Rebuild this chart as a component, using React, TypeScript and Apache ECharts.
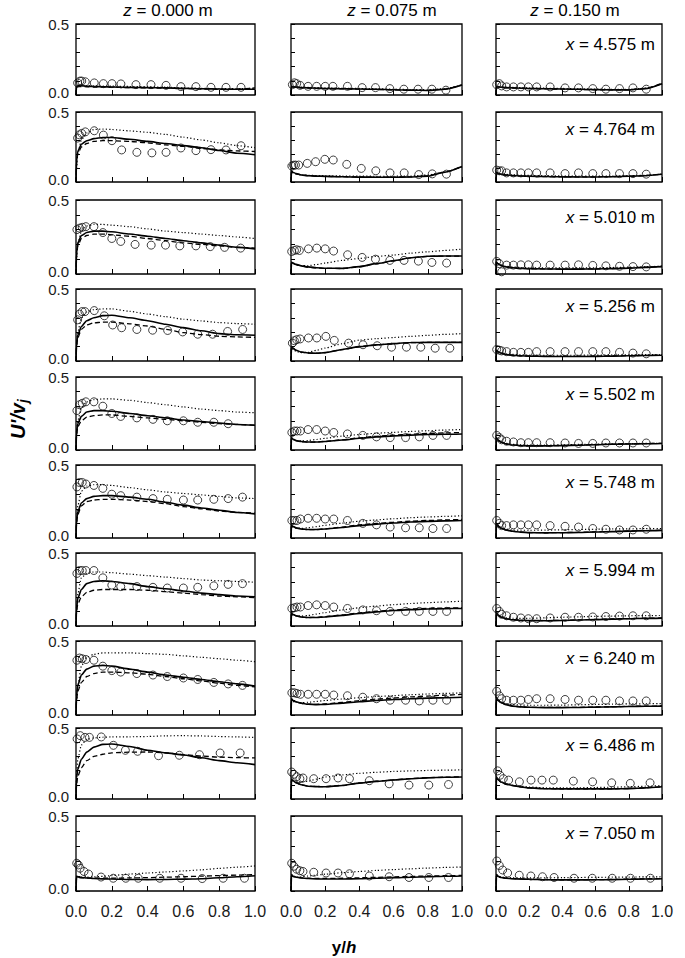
import React, { useEffect, useRef } from "react";
import * as echarts from "echarts";

// y/h sample points of the model curves
const Y_H = [0, 0.003, 0.01, 0.03, 0.06, 0.1, 0.15, 0.2, 0.3, 0.4, 0.5, 0.6, 0.7, 0.8, 0.9, 1.0];
const STATIONS = ["4.575", "4.764", "5.010", "5.256", "5.502", "5.748", "5.994", "6.240", "6.486", "7.050"];
const Z_LABELS = ["0.000", "0.075", "0.150"];

// ---------- z = 0.000 m ----------
const SOLID_Z0 = [
  [0, 0.06, 0.065, 0.065, 0.062, 0.06, 0.058, 0.056, 0.054, 0.052, 0.05, 0.047, 0.044, 0.042, 0.04, 0.04],
  [0, 0.15, 0.22, 0.27, 0.295, 0.31, 0.318, 0.318, 0.305, 0.29, 0.275, 0.26, 0.245, 0.225, 0.205, 0.195],
  [0, 0.14, 0.21, 0.26, 0.28, 0.29, 0.29, 0.285, 0.27, 0.255, 0.24, 0.225, 0.21, 0.195, 0.18, 0.17],
  [0, 0.12, 0.18, 0.24, 0.28, 0.3, 0.315, 0.318, 0.3, 0.28, 0.255, 0.232, 0.21, 0.19, 0.182, 0.179],
  [0, 0.12, 0.18, 0.23, 0.26, 0.27, 0.27, 0.265, 0.25, 0.235, 0.22, 0.205, 0.195, 0.185, 0.175, 0.17],
  [0, 0.12, 0.18, 0.24, 0.27, 0.285, 0.29, 0.29, 0.28, 0.265, 0.245, 0.225, 0.205, 0.19, 0.175, 0.165],
  [0, 0.12, 0.19, 0.25, 0.29, 0.305, 0.31, 0.305, 0.29, 0.27, 0.255, 0.24, 0.225, 0.215, 0.205, 0.2],
  [0, 0.13, 0.2, 0.27, 0.31, 0.33, 0.335, 0.33, 0.31, 0.29, 0.27, 0.255, 0.24, 0.225, 0.21, 0.195],
  [0, 0.15, 0.21, 0.28, 0.33, 0.365, 0.385, 0.387, 0.37, 0.343, 0.325, 0.31, 0.29, 0.27, 0.255, 0.242],
  [0, 0.1, 0.095, 0.09, 0.087, 0.083, 0.081, 0.08, 0.077, 0.076, 0.077, 0.079, 0.082, 0.088, 0.095, 0.102],
];
const DASH_Z0 = [
  [0, 0.055, 0.06, 0.06, 0.058, 0.056, 0.055, 0.054, 0.052, 0.05, 0.048, 0.045, 0.042, 0.04, 0.042, 0.05],
  [0, 0.13, 0.2, 0.25, 0.275, 0.29, 0.295, 0.295, 0.29, 0.28, 0.265, 0.255, 0.24, 0.23, 0.222, 0.218],
  [0, 0.12, 0.19, 0.24, 0.26, 0.27, 0.27, 0.265, 0.255, 0.24, 0.225, 0.21, 0.2, 0.19, 0.18, 0.175],
  [0, 0.1, 0.16, 0.22, 0.25, 0.265, 0.27, 0.27, 0.258, 0.243, 0.22, 0.197, 0.183, 0.172, 0.167, 0.164],
  [0, 0.1, 0.16, 0.2, 0.225, 0.235, 0.24, 0.24, 0.23, 0.22, 0.21, 0.2, 0.19, 0.18, 0.175, 0.17],
  [0, 0.1, 0.16, 0.22, 0.25, 0.26, 0.265, 0.265, 0.26, 0.25, 0.235, 0.215, 0.2, 0.185, 0.175, 0.17],
  [0, 0.1, 0.15, 0.2, 0.23, 0.245, 0.25, 0.25, 0.25, 0.245, 0.235, 0.225, 0.215, 0.205, 0.2, 0.195],
  [0, 0.1, 0.16, 0.22, 0.26, 0.28, 0.29, 0.29, 0.285, 0.275, 0.26, 0.245, 0.23, 0.215, 0.2, 0.19],
  [0, 0.1, 0.16, 0.22, 0.27, 0.3, 0.315, 0.325, 0.33, 0.331, 0.325, 0.312, 0.302, 0.295, 0.291, 0.289],
  [0, 0.09, 0.09, 0.088, 0.087, 0.086, 0.086, 0.086, 0.087, 0.089, 0.092, 0.095, 0.099, 0.103, 0.106, 0.109],
];
const DOT_Z0 = [
  [0, 0.05, 0.06, 0.065, 0.065, 0.064, 0.063, 0.062, 0.06, 0.058, 0.055, 0.05, 0.047, 0.045, 0.045, 0.047],
  [0, 0.1, 0.2, 0.3, 0.35, 0.375, 0.378, 0.375, 0.365, 0.355, 0.34, 0.32, 0.3, 0.28, 0.26, 0.245],
  [0, 0.1, 0.2, 0.29, 0.325, 0.335, 0.335, 0.33, 0.32, 0.305, 0.29, 0.28, 0.27, 0.26, 0.25, 0.24],
  [0, 0.1, 0.2, 0.3, 0.34, 0.357, 0.362, 0.362, 0.345, 0.326, 0.308, 0.29, 0.278, 0.267, 0.26, 0.255],
  [0, 0.1, 0.2, 0.29, 0.33, 0.345, 0.35, 0.35, 0.34, 0.325, 0.31, 0.295, 0.28, 0.27, 0.26, 0.255],
  [0, 0.1, 0.22, 0.32, 0.355, 0.365, 0.365, 0.36, 0.345, 0.33, 0.315, 0.305, 0.295, 0.285, 0.275, 0.27],
  [0, 0.1, 0.22, 0.33, 0.36, 0.37, 0.37, 0.365, 0.355, 0.345, 0.335, 0.325, 0.315, 0.31, 0.305, 0.3],
  [0, 0.1, 0.2, 0.33, 0.39, 0.41, 0.42, 0.42, 0.42, 0.415, 0.41, 0.4, 0.39, 0.38, 0.37, 0.36],
  [0, 0.15, 0.28, 0.38, 0.42, 0.43, 0.435, 0.437, 0.438, 0.44, 0.445, 0.446, 0.444, 0.44, 0.437, 0.434],
  [0, 0.08, 0.09, 0.092, 0.093, 0.094, 0.098, 0.103, 0.113, 0.12, 0.127, 0.134, 0.141, 0.151, 0.159, 0.167],
];
const EXPX_Z0 = [
  [0.009, 0.022, 0.032, 0.052, 0.102, 0.153, 0.201, 0.251, 0.335, 0.419, 0.503, 0.586, 0.67, 0.754, 0.838, 0.922],
  [0.009, 0.019, 0.032, 0.052, 0.102, 0.153, 0.201, 0.255, 0.34, 0.424, 0.503, 0.586, 0.67, 0.754, 0.838, 0.922],
  [0.005, 0.02, 0.035, 0.055, 0.1, 0.15, 0.2, 0.25, 0.33, 0.42, 0.5, 0.58, 0.67, 0.75, 0.83, 0.92],
  [0.009, 0.019, 0.034, 0.05, 0.102, 0.158, 0.205, 0.255, 0.34, 0.428, 0.512, 0.596, 0.68, 0.763, 0.847, 0.931],
  [0.005, 0.02, 0.035, 0.055, 0.1, 0.15, 0.2, 0.25, 0.34, 0.43, 0.51, 0.6, 0.68, 0.77, 0.85],
  [0.005, 0.02, 0.035, 0.055, 0.1, 0.15, 0.2, 0.25, 0.34, 0.43, 0.51, 0.6, 0.68, 0.77, 0.85, 0.93],
  [0.005, 0.02, 0.035, 0.055, 0.1, 0.15, 0.2, 0.25, 0.34, 0.43, 0.51, 0.6, 0.68, 0.77, 0.85, 0.93],
  [0.005, 0.02, 0.035, 0.055, 0.1, 0.15, 0.2, 0.25, 0.34, 0.43, 0.51, 0.6, 0.68, 0.77, 0.85, 0.93],
  [0.006, 0.024, 0.05, 0.075, 0.141, 0.209, 0.276, 0.344, 0.461, 0.577, 0.69, 0.805, 0.917],
  [0.004, 0.013, 0.023, 0.045, 0.07, 0.14, 0.208, 0.278, 0.348, 0.468, 0.587, 0.705, 0.822, 0.941],
];
const EXPY_Z0 = [
  [0.085, 0.098, 0.098, 0.093, 0.085, 0.08, 0.08, 0.078, 0.073, 0.073, 0.068, 0.059, 0.059, 0.054, 0.054, 0.054],
  [0.314, 0.337, 0.347, 0.358, 0.366, 0.335, 0.295, 0.229, 0.212, 0.208, 0.212, 0.243, 0.224, 0.231, 0.229, 0.259],
  [0.3, 0.31, 0.315, 0.32, 0.32, 0.28, 0.24, 0.22, 0.2, 0.195, 0.195, 0.19, 0.19, 0.185, 0.18, 0.175],
  [0.286, 0.326, 0.343, 0.343, 0.35, 0.314, 0.25, 0.231, 0.219, 0.214, 0.212, 0.202, 0.186, 0.186, 0.205, 0.219],
  [0.27, 0.31, 0.32, 0.33, 0.33, 0.3, 0.25, 0.23, 0.22, 0.21, 0.2, 0.2, 0.19, 0.19, 0.18],
  [0.35, 0.38, 0.38, 0.37, 0.36, 0.34, 0.3, 0.29, 0.28, 0.27, 0.265, 0.26, 0.26, 0.265, 0.27, 0.28],
  [0.36, 0.38, 0.38, 0.38, 0.38, 0.33, 0.28, 0.27, 0.27, 0.265, 0.26, 0.26, 0.265, 0.275, 0.285, 0.29],
  [0.37, 0.385, 0.38, 0.375, 0.37, 0.33, 0.3, 0.29, 0.28, 0.27, 0.26, 0.25, 0.24, 0.22, 0.21, 0.2],
  [0.423, 0.446, 0.434, 0.434, 0.437, 0.378, 0.343, 0.336, 0.305, 0.308, 0.312, 0.324, 0.324],
  [0.185, 0.174, 0.152, 0.13, 0.113, 0.093, 0.085, 0.085, 0.085, 0.085, 0.085, 0.083, 0.085, 0.085],
];

// ---------- z = 0.075 m ----------
const SOLID_Z1 = [
  [0, 0.06, 0.058, 0.055, 0.052, 0.05, 0.048, 0.046, 0.044, 0.042, 0.04, 0.037, 0.034, 0.032, 0.04, 0.07],
  [0, 0.08, 0.07, 0.06, 0.05, 0.045, 0.042, 0.04, 0.037, 0.035, 0.034, 0.034, 0.036, 0.042, 0.07, 0.11],
  [0, 0.08, 0.075, 0.065, 0.055, 0.048, 0.042, 0.039, 0.038, 0.05, 0.07, 0.09, 0.11, 0.12, 0.122, 0.122],
  [0, 0.1, 0.09, 0.075, 0.062, 0.056, 0.054, 0.058, 0.08, 0.1, 0.112, 0.121, 0.128, 0.129, 0.129, 0.129],
  [0, 0.085, 0.075, 0.065, 0.058, 0.055, 0.055, 0.058, 0.068, 0.08, 0.09, 0.097, 0.102, 0.106, 0.108, 0.11],
  [0, 0.09, 0.08, 0.07, 0.062, 0.058, 0.058, 0.062, 0.072, 0.085, 0.095, 0.103, 0.11, 0.114, 0.117, 0.12],
  [0, 0.09, 0.08, 0.07, 0.062, 0.058, 0.058, 0.062, 0.073, 0.086, 0.097, 0.106, 0.112, 0.116, 0.119, 0.12],
  [0, 0.11, 0.1, 0.09, 0.08, 0.073, 0.07, 0.072, 0.08, 0.09, 0.098, 0.105, 0.11, 0.114, 0.117, 0.12],
  [0, 0.14, 0.13, 0.115, 0.1, 0.09, 0.087, 0.086, 0.095, 0.112, 0.124, 0.134, 0.143, 0.149, 0.153, 0.155],
  [0, 0.11, 0.1, 0.092, 0.087, 0.083, 0.081, 0.08, 0.08, 0.082, 0.085, 0.088, 0.092, 0.095, 0.098, 0.1],
];
const DASH_Z1 = [
  [0, 0.058, 0.056, 0.054, 0.051, 0.049, 0.047, 0.045, 0.043, 0.041, 0.039, 0.036, 0.033, 0.033, 0.042, 0.072],
  [0, 0.078, 0.068, 0.059, 0.05, 0.045, 0.042, 0.04, 0.038, 0.036, 0.035, 0.035, 0.037, 0.044, 0.071, 0.112],
  [0, 0.078, 0.073, 0.063, 0.054, 0.047, 0.041, 0.038, 0.037, 0.049, 0.069, 0.089, 0.109, 0.119, 0.121, 0.121],
  [0, 0.098, 0.088, 0.074, 0.061, 0.055, 0.054, 0.058, 0.079, 0.099, 0.111, 0.12, 0.127, 0.129, 0.13, 0.13],
  [0, 0.083, 0.073, 0.063, 0.056, 0.054, 0.055, 0.059, 0.07, 0.083, 0.094, 0.102, 0.108, 0.113, 0.117, 0.12],
  [0, 0.088, 0.078, 0.068, 0.06, 0.057, 0.058, 0.063, 0.075, 0.09, 0.1, 0.108, 0.115, 0.12, 0.124, 0.127],
  [0, 0.088, 0.078, 0.069, 0.061, 0.058, 0.059, 0.064, 0.076, 0.09, 0.101, 0.11, 0.116, 0.12, 0.123, 0.125],
  [0, 0.108, 0.098, 0.088, 0.078, 0.073, 0.072, 0.075, 0.085, 0.097, 0.107, 0.115, 0.122, 0.128, 0.134, 0.14],
  [0, 0.138, 0.128, 0.114, 0.1, 0.091, 0.088, 0.087, 0.096, 0.113, 0.125, 0.135, 0.144, 0.15, 0.154, 0.157],
  [0, 0.108, 0.098, 0.092, 0.088, 0.085, 0.084, 0.084, 0.085, 0.088, 0.091, 0.094, 0.097, 0.1, 0.102, 0.104],
];
const DOT_Z1 = [
  [0, 0.055, 0.058, 0.058, 0.056, 0.054, 0.052, 0.05, 0.048, 0.046, 0.044, 0.041, 0.038, 0.037, 0.045, 0.07],
  [0, 0.07, 0.065, 0.058, 0.052, 0.048, 0.046, 0.045, 0.043, 0.042, 0.041, 0.041, 0.043, 0.05, 0.072, 0.108],
  [0, 0.075, 0.07, 0.062, 0.056, 0.056, 0.064, 0.074, 0.092, 0.105, 0.119, 0.128, 0.141, 0.15, 0.159, 0.168],
  [0, 0.09, 0.08, 0.068, 0.058, 0.06, 0.075, 0.09, 0.12, 0.145, 0.155, 0.163, 0.171, 0.178, 0.185, 0.19],
  [0, 0.08, 0.072, 0.065, 0.062, 0.065, 0.072, 0.08, 0.095, 0.106, 0.115, 0.121, 0.127, 0.132, 0.137, 0.14],
  [0, 0.085, 0.075, 0.068, 0.066, 0.07, 0.078, 0.087, 0.102, 0.115, 0.124, 0.132, 0.139, 0.144, 0.148, 0.152],
  [0, 0.085, 0.075, 0.07, 0.068, 0.072, 0.082, 0.092, 0.11, 0.125, 0.137, 0.146, 0.154, 0.16, 0.165, 0.17],
  [0, 0.1, 0.092, 0.085, 0.083, 0.086, 0.092, 0.098, 0.108, 0.117, 0.125, 0.131, 0.137, 0.142, 0.146, 0.15],
  [0, 0.135, 0.128, 0.12, 0.12, 0.126, 0.14, 0.155, 0.17, 0.181, 0.188, 0.194, 0.198, 0.201, 0.203, 0.205],
  [0, 0.1, 0.095, 0.093, 0.095, 0.1, 0.106, 0.112, 0.122, 0.13, 0.137, 0.143, 0.148, 0.153, 0.157, 0.16],
];
const EXPX_Z1 = [
  [0.008, 0.02, 0.033, 0.053, 0.1, 0.15, 0.2, 0.245, 0.33, 0.416, 0.494, 0.578, 0.66, 0.743, 0.824, 0.906],
  [0.005, 0.015, 0.026, 0.045, 0.095, 0.144, 0.198, 0.247, 0.326, 0.411, 0.496, 0.579, 0.662, 0.747, 0.826, 0.909],
  [0.004, 0.02, 0.033, 0.049, 0.102, 0.151, 0.2, 0.249, 0.331, 0.416, 0.494, 0.578, 0.661, 0.745, 0.824, 0.91],
  [0.008, 0.02, 0.033, 0.053, 0.102, 0.151, 0.204, 0.253, 0.337, 0.421, 0.504, 0.588, 0.675, 0.759, 0.843, 0.929],
  [0.005, 0.02, 0.035, 0.055, 0.1, 0.15, 0.2, 0.25, 0.33, 0.42, 0.5, 0.58, 0.67, 0.75, 0.83, 0.91],
  [0.005, 0.02, 0.035, 0.055, 0.1, 0.15, 0.2, 0.25, 0.33, 0.42, 0.5, 0.58, 0.67, 0.75, 0.83, 0.91],
  [0.005, 0.02, 0.035, 0.055, 0.1, 0.15, 0.2, 0.25, 0.33, 0.42, 0.5, 0.58, 0.67, 0.75, 0.83, 0.91],
  [0.005, 0.02, 0.035, 0.055, 0.1, 0.15, 0.2, 0.25, 0.33, 0.42, 0.5, 0.58, 0.67, 0.75, 0.83, 0.91],
  [0.004, 0.017, 0.033, 0.052, 0.07, 0.133, 0.205, 0.275, 0.342, 0.458, 0.574, 0.69, 0.806, 0.921],
  [0.004, 0.017, 0.033, 0.052, 0.07, 0.133, 0.205, 0.275, 0.342, 0.458, 0.574, 0.69, 0.806, 0.921],
];
const EXPY_Z1 = [
  [0.073, 0.086, 0.08, 0.068, 0.061, 0.061, 0.061, 0.061, 0.061, 0.052, 0.052, 0.045, 0.041, 0.041, 0.041, 0.034],
  [0.114, 0.12, 0.121, 0.121, 0.133, 0.145, 0.162, 0.157, 0.126, 0.097, 0.08, 0.065, 0.065, 0.053, 0.058, 0.056],
  [0.152, 0.159, 0.164, 0.159, 0.17, 0.175, 0.17, 0.155, 0.13, 0.112, 0.1, 0.092, 0.092, 0.087, 0.078, 0.074],
  [0.124, 0.141, 0.148, 0.153, 0.16, 0.16, 0.171, 0.143, 0.124, 0.113, 0.106, 0.096, 0.096, 0.096, 0.089, 0.089],
  [0.12, 0.13, 0.13, 0.13, 0.14, 0.14, 0.13, 0.12, 0.11, 0.1, 0.09, 0.085, 0.085, 0.09, 0.1, 0.1],
  [0.12, 0.12, 0.12, 0.13, 0.135, 0.135, 0.13, 0.13, 0.12, 0.1, 0.09, 0.075, 0.07, 0.07, 0.065, 0.065],
  [0.12, 0.125, 0.13, 0.13, 0.14, 0.145, 0.14, 0.13, 0.12, 0.11, 0.105, 0.1, 0.1, 0.1, 0.1, 0.1],
  [0.15, 0.15, 0.145, 0.14, 0.14, 0.14, 0.14, 0.135, 0.13, 0.12, 0.11, 0.1, 0.1, 0.095, 0.1, 0.1],
  [0.19, 0.174, 0.157, 0.143, 0.148, 0.143, 0.143, 0.148, 0.143, 0.129, 0.107, 0.098, 0.098, 0.102],
  [0.185, 0.165, 0.145, 0.135, 0.13, 0.125, 0.12, 0.12, 0.115, 0.1, 0.095, 0.09, 0.09, 0.09],
];

// ---------- z = 0.150 m ----------
const SOLID_Z2 = [
  [0, 0.06, 0.058, 0.055, 0.052, 0.05, 0.048, 0.046, 0.044, 0.042, 0.04, 0.038, 0.036, 0.036, 0.045, 0.08],
  [0, 0.07, 0.062, 0.055, 0.05, 0.046, 0.043, 0.041, 0.039, 0.037, 0.036, 0.036, 0.038, 0.041, 0.045, 0.055],
  [0, 0.08, 0.07, 0.058, 0.048, 0.042, 0.038, 0.036, 0.034, 0.033, 0.033, 0.034, 0.036, 0.04, 0.045, 0.05],
  [0, 0.075, 0.065, 0.055, 0.045, 0.04, 0.036, 0.034, 0.032, 0.031, 0.031, 0.032, 0.034, 0.036, 0.038, 0.04],
  [0, 0.085, 0.07, 0.055, 0.042, 0.034, 0.03, 0.028, 0.028, 0.03, 0.033, 0.036, 0.039, 0.041, 0.043, 0.045],
  [0, 0.1, 0.085, 0.068, 0.055, 0.046, 0.04, 0.037, 0.035, 0.036, 0.038, 0.041, 0.044, 0.047, 0.05, 0.052],
  [0, 0.09, 0.077, 0.062, 0.05, 0.043, 0.039, 0.037, 0.036, 0.038, 0.041, 0.044, 0.047, 0.05, 0.052, 0.054],
  [0, 0.12, 0.1, 0.085, 0.07, 0.06, 0.055, 0.052, 0.05, 0.05, 0.051, 0.053, 0.055, 0.057, 0.059, 0.06],
  [0, 0.157, 0.14, 0.12, 0.105, 0.095, 0.085, 0.078, 0.072, 0.071, 0.071, 0.071, 0.071, 0.073, 0.078, 0.086],
  [0, 0.11, 0.1, 0.09, 0.085, 0.082, 0.08, 0.078, 0.075, 0.074, 0.074, 0.075, 0.076, 0.078, 0.08, 0.082],
];
const DASH_Z2 = [
  [0, 0.058, 0.056, 0.054, 0.051, 0.049, 0.047, 0.045, 0.043, 0.041, 0.039, 0.037, 0.036, 0.037, 0.046, 0.082],
  [0, 0.068, 0.061, 0.054, 0.049, 0.045, 0.042, 0.04, 0.038, 0.037, 0.036, 0.037, 0.039, 0.042, 0.046, 0.056],
  [0, 0.078, 0.069, 0.057, 0.047, 0.041, 0.037, 0.035, 0.034, 0.033, 0.034, 0.035, 0.037, 0.041, 0.046, 0.051],
  [0, 0.073, 0.064, 0.054, 0.045, 0.04, 0.036, 0.034, 0.032, 0.032, 0.032, 0.033, 0.035, 0.037, 0.039, 0.041],
  [0, 0.083, 0.069, 0.054, 0.042, 0.034, 0.03, 0.029, 0.029, 0.031, 0.034, 0.037, 0.04, 0.042, 0.044, 0.046],
  [0, 0.098, 0.083, 0.067, 0.054, 0.046, 0.04, 0.037, 0.036, 0.037, 0.039, 0.042, 0.045, 0.048, 0.051, 0.053],
  [0, 0.088, 0.076, 0.061, 0.05, 0.043, 0.039, 0.037, 0.037, 0.039, 0.042, 0.045, 0.048, 0.051, 0.053, 0.055],
  [0, 0.118, 0.099, 0.084, 0.07, 0.06, 0.055, 0.052, 0.051, 0.051, 0.052, 0.054, 0.056, 0.058, 0.06, 0.061],
  [0, 0.155, 0.138, 0.119, 0.104, 0.094, 0.085, 0.078, 0.073, 0.072, 0.072, 0.072, 0.072, 0.074, 0.079, 0.087],
  [0, 0.108, 0.099, 0.09, 0.085, 0.082, 0.08, 0.078, 0.076, 0.075, 0.075, 0.076, 0.077, 0.079, 0.081, 0.083],
];
const DOT_Z2 = [
  [0, 0.056, 0.058, 0.058, 0.056, 0.054, 0.052, 0.05, 0.048, 0.046, 0.044, 0.042, 0.04, 0.04, 0.048, 0.078],
  [0, 0.068, 0.063, 0.058, 0.054, 0.051, 0.049, 0.047, 0.045, 0.043, 0.042, 0.042, 0.043, 0.045, 0.048, 0.056],
  [0, 0.078, 0.07, 0.06, 0.052, 0.047, 0.044, 0.042, 0.041, 0.041, 0.041, 0.042, 0.044, 0.046, 0.049, 0.053],
  [0, 0.073, 0.066, 0.057, 0.05, 0.046, 0.043, 0.041, 0.04, 0.04, 0.04, 0.041, 0.042, 0.043, 0.044, 0.045],
  [0, 0.083, 0.07, 0.057, 0.046, 0.039, 0.035, 0.033, 0.033, 0.035, 0.038, 0.04, 0.042, 0.044, 0.045, 0.046],
  [0, 0.1, 0.085, 0.07, 0.06, 0.055, 0.053, 0.053, 0.054, 0.056, 0.058, 0.06, 0.062, 0.063, 0.064, 0.065],
  [0, 0.09, 0.08, 0.066, 0.057, 0.053, 0.052, 0.053, 0.056, 0.06, 0.063, 0.066, 0.068, 0.07, 0.071, 0.072],
  [0, 0.12, 0.1, 0.088, 0.077, 0.07, 0.067, 0.066, 0.066, 0.067, 0.069, 0.071, 0.073, 0.075, 0.076, 0.077],
  [0, 0.157, 0.14, 0.122, 0.108, 0.098, 0.09, 0.084, 0.079, 0.078, 0.079, 0.081, 0.083, 0.086, 0.09, 0.095],
  [0, 0.11, 0.1, 0.093, 0.09, 0.088, 0.088, 0.088, 0.088, 0.089, 0.09, 0.091, 0.092, 0.093, 0.094, 0.095],
];
const EXPX_Z2_COMMON = [0.004, 0.02, 0.034, 0.064, 0.105, 0.15, 0.195, 0.245, 0.326, 0.416, 0.497, 0.583, 0.662, 0.744, 0.825, 0.905];
const EXPX_Z2 = [
  EXPX_Z2_COMMON, EXPX_Z2_COMMON, EXPX_Z2_COMMON, EXPX_Z2_COMMON,
  EXPX_Z2_COMMON, EXPX_Z2_COMMON, EXPX_Z2_COMMON, EXPX_Z2_COMMON,
  [0.01, 0.024, 0.044, 0.076, 0.141, 0.211, 0.277, 0.345, 0.466, 0.582, 0.697, 0.809, 0.928],
  [0.005, 0.02, 0.04, 0.07, 0.14, 0.21, 0.28, 0.35, 0.47, 0.58, 0.7, 0.81, 0.93],
];
const EXPY_Z2 = [
  [0.073, 0.08, 0.064, 0.057, 0.057, 0.057, 0.057, 0.057, 0.057, 0.05, 0.05, 0.045, 0.041, 0.045, 0.05, 0.041],
  [0.085, 0.08, 0.08, 0.065, 0.065, 0.065, 0.065, 0.065, 0.065, 0.06, 0.065, 0.06, 0.06, 0.06, 0.06, 0.056],
  [0.085, 0.07, 0.015, 0.06, 0.06, 0.062, 0.062, 0.06, 0.06, 0.06, 0.062, 0.058, 0.055, 0.052, 0.05, 0.048],
  [0.08, 0.075, 0.07, 0.065, 0.06, 0.06, 0.06, 0.065, 0.065, 0.065, 0.065, 0.065, 0.065, 0.06, 0.055, 0.05],
  [0.1, 0.085, 0.07, 0.06, 0.055, 0.05, 0.05, 0.05, 0.05, 0.048, 0.045, 0.045, 0.048, 0.048, 0.048, 0.048],
  [0.12, 0.1, 0.085, 0.085, 0.09, 0.09, 0.09, 0.09, 0.085, 0.08, 0.075, 0.065, 0.06, 0.055, 0.055, 0.06],
  [0.12, 0.1, 0.08, 0.07, 0.06, 0.055, 0.05, 0.05, 0.055, 0.06, 0.06, 0.062, 0.065, 0.068, 0.07, 0.07],
  [0.16, 0.13, 0.11, 0.1, 0.1, 0.1, 0.105, 0.11, 0.11, 0.105, 0.1, 0.1, 0.1, 0.095, 0.095, 0.095],
  [0.198, 0.167, 0.143, 0.133, 0.121, 0.133, 0.133, 0.133, 0.126, 0.121, 0.114, 0.11, 0.114],
  [0.2, 0.17, 0.14, 0.12, 0.105, 0.1, 0.095, 0.09, 0.085, 0.085, 0.085, 0.085, 0.085],
];

const COLS = [
  { solid: SOLID_Z0, dash: DASH_Z0, dot: DOT_Z0, ex: EXPX_Z0, ey: EXPY_Z0 },
  { solid: SOLID_Z1, dash: DASH_Z1, dot: DOT_Z1, ex: EXPX_Z1, ey: EXPY_Z1 },
  { solid: SOLID_Z2, dash: DASH_Z2, dot: DOT_Z2, ex: EXPX_Z2, ey: EXPY_Z2 },
];

// layout (pixels)
const COL_LEFT = [76, 291, 496];
const COL_WIDTH = [179, 171, 166];
const ROW_TOP = [24, 112, 200, 289, 377, 465, 553, 641, 728, 816];
const ROW_HEIGHT = [71, 70, 74, 72, 73, 73, 73, 74, 71, 75];
const TITLE_X = [168, 392, 575];

const FONT = "'Liberation Sans', Arial, Helvetica, sans-serif";

function buildOption() {
  const grid: any[] = [];
  const xAxis: any[] = [];
  const yAxis: any[] = [];
  const series: any[] = [];
  for (let r = 0; r < 10; r++) {
    for (let c = 0; c < 3; c++) {
      const gi = grid.length;
      grid.push({
        left: COL_LEFT[c],
        top: ROW_TOP[r],
        width: COL_WIDTH[c],
        height: ROW_HEIGHT[r],
        show: true,
        borderColor: "#000",
        borderWidth: 1.3,
        backgroundColor: "transparent",
      });
      xAxis.push({
        gridIndex: gi,
        type: "value",
        min: 0,
        max: 1,
        interval: 0.2,
        axisLine: { show: false },
        axisTick: { show: true, inside: true, length: 5, lineStyle: { color: "#000", width: 1 } },
        splitLine: { show: false },
        axisLabel: {
          show: r === 9,
          margin: 12,
          fontSize: 16,
          color: "#1a1a1a",
          fontFamily: FONT,
          formatter: (v: number) => v.toFixed(1),
        },
      });
      yAxis.push({
        gridIndex: gi,
        type: "value",
        min: 0,
        max: 0.5,
        interval: 0.1,
        axisLine: { show: false },
        axisTick: { show: true, inside: true, length: 4, lineStyle: { color: "#000", width: 1 } },
        splitLine: { show: false },
        axisLabel: {
          show: c === 0,
          margin: 7,
          fontSize: 15,
          lineHeight: 12,
          color: "#1a1a1a",
          fontFamily: FONT,
          formatter: (v: number) => (Math.abs(v) < 1e-9 ? "{lo|0.0}" : Math.abs(v - 0.5) < 1e-9 ? "{hi|0.5}" : ""),
          rich: {
            lo: { fontSize: 15, lineHeight: 12, fontFamily: FONT, color: "#1a1a1a", padding: [0, 0, 5, 0] },
            hi: { fontSize: 15, lineHeight: 12, fontFamily: FONT, color: "#1a1a1a", padding: [1, 0, 0, 0] },
          },
        },
      });
      const col = COLS[c];
      const mk = (arr: number[]) => Y_H.map((x, i) => [x, arr[i]]);
      const base = { type: "line", xAxisIndex: gi, yAxisIndex: gi, showSymbol: false, symbol: "none", smooth: 0.2, smoothMonotone: "x", silent: true };
      series.push({ ...base, data: mk(col.dot[r]), lineStyle: { color: "#000", width: 1.2, type: [1.2, 2.2] }, z: 2 });
      series.push({ ...base, data: mk(col.dash[r]), lineStyle: { color: "#000", width: 1.3, type: [5, 3] }, z: 3 });
      series.push({ ...base, data: mk(col.solid[r]), lineStyle: { color: "#000", width: 1.6, type: "solid" }, z: 4 });
      series.push({
        type: "scatter",
        xAxisIndex: gi,
        yAxisIndex: gi,
        symbol: "circle",
        symbolSize: 8,
        silent: true,
        clip: false,
        itemStyle: { color: "transparent", borderColor: "#111", borderWidth: 1 },
        data: col.ex[r].map((x, i) => [x, col.ey[r][i]]),
        z: 5,
      });
    }
  }

  const graphic: any[] = [];
  Z_LABELS.forEach((z, c) => {
    graphic.push({
      type: "text",
      x: TITLE_X[c],
      y: 10,
      style: {
        text: "{i|z} = " + z + " m",
        rich: { i: { fontStyle: "italic", fontSize: 17, fontFamily: FONT, fill: "#000" } },
        fontSize: 17,
        fontFamily: FONT,
        fill: "#000",
        align: "center",
        verticalAlign: "middle",
      },
    });
  });
  STATIONS.forEach((s, r) => {
    graphic.push({
      type: "text",
      x: 655,
      y: ROW_TOP[r] + (r === 0 ? 20 : 17),
      style: {
        text: "{i|x} = " + s + " m",
        rich: { i: { fontStyle: "italic", fontSize: 17, fontFamily: FONT, fill: "#000" } },
        fontSize: 17,
        fontFamily: FONT,
        fill: "#000",
        align: "right",
        verticalAlign: "middle",
      },
      z: 10,
    });
  });
  // y-axis title U'/v_j (rotated)
  graphic.push({
    type: "group",
    x: 18,
    y: 418,
    rotation: Math.PI / 2,
    children: [
      {
        type: "text",
        x: -21,
        y: 0,
        style: {
          text: "U'/v",
          fontSize: 20,
          fontWeight: "bold",
          fontStyle: "italic",
          fontFamily: FONT,
          fill: "#000",
          align: "left",
          verticalAlign: "middle",
        },
      },
      {
        type: "text",
        x: 15,
        y: 5,
        style: {
          text: "j",
          fontSize: 14,
          fontWeight: "bold",
          fontStyle: "italic",
          fontFamily: FONT,
          fill: "#000",
          align: "left",
          verticalAlign: "middle",
        },
      },
    ],
  });
  // x-axis title y/h
  graphic.push({
    type: "text",
    x: 344,
    y: 947,
    style: {
      text: "y/{i|h}",
      rich: { i: { fontStyle: "italic", fontWeight: "bold", fontSize: 17, fontFamily: FONT, fill: "#000" } },
      fontSize: 17,
      fontWeight: "bold",
      fontFamily: FONT,
      fill: "#000",
      align: "center",
      verticalAlign: "middle",
    },
  });

  return {
    animation: false,
    backgroundColor: "#fff",
    grid,
    xAxis,
    yAxis,
    series,
    graphic,
  };
}

export default function App() {
  const ref = useRef<HTMLDivElement>(null);
  useEffect(() => {
    if (!ref.current) return;
    const chart = echarts.init(ref.current, undefined, { renderer: "svg" });
    chart.setOption(buildOption() as any);
    return () => chart.dispose();
  }, []);
  return (
    <div
      ref={ref}
      style={{ position: "absolute", left: 0, top: 0, width: 685, height: 958, background: "#fff" }}
    />
  );
}
